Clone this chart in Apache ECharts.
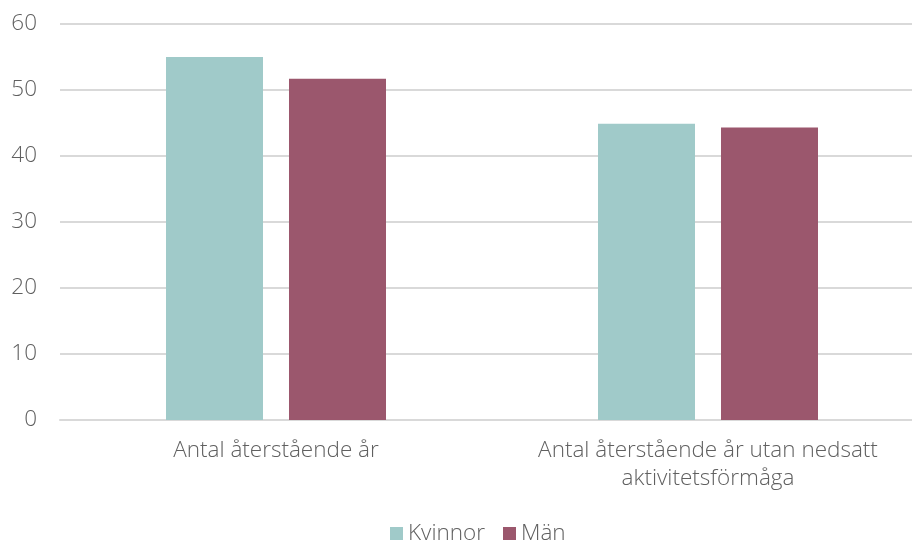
<!DOCTYPE html>
<html>
<head>
<meta charset="utf-8">
<script src="https://cdn.jsdelivr.net/npm/echarts@6/dist/echarts.min.js"></script>
<style>
  html, body { margin: 0; padding: 0; background: #fff; overflow: hidden; }
  #wrap { width: 912px; height: 541px; overflow: hidden; }
  #chart { width: 924px; height: 541px; }
</style>
</head>
<body>
<div id="wrap"><div id="chart"></div></div>
<script>
// data
var categories = ['Antal återstående år', 'Antal återstående år utan nedsatt\naktivitetsförmåga'];
var kvinnor = [55.0, 44.9];
var man = [51.7, 44.3];
var yTicks = { min: 0, max: 60, interval: 10 };

var chart = echarts.init(document.getElementById('chart'));
var font = '"Open Sans", Lato, sans-serif';
var grey = '#606060';

var option = {
  animation: false,
  textStyle: { fontFamily: font },
  color: ['#a0cac9', '#9b576d'],
  grid: { left: 60, top: 24, right: 0, bottom: 121 },
  legend: {
    top: 517,
    left: 385,
    itemWidth: 13,
    itemHeight: 13,
    itemGap: 18,
    icon: 'rect',
    textStyle: { fontSize: 22.5, color: grey, fontWeight: 300, fontFamily: font },
    data: ['Kvinnor', 'Män']
  },
  xAxis: {
    type: 'category',
    data: categories,
    axisTick: { show: false },
    axisLine: { lineStyle: { color: '#d9d9d9', width: 2 } },
    axisLabel: {
      fontSize: 22.5,
      color: grey,
      fontWeight: 300,
      fontFamily: font,
      margin: 17,
      lineHeight: 28,
      interval: 0
    }
  },
  yAxis: {
    type: 'value',
    min: yTicks.min,
    max: yTicks.max,
    interval: yTicks.interval,
    axisLine: { show: false },
    axisTick: { show: false },
    splitLine: { lineStyle: { color: '#d9d9d9', width: 2 } },
    axisLabel: { fontSize: 22.5, color: grey, fontWeight: 300, fontFamily: font, margin: 23 }
  },
  series: [
    { name: 'Kvinnor', type: 'bar', data: kvinnor, barWidth: 97, barGap: '26.8%' },
    { name: 'Män', type: 'bar', data: man, barWidth: 97, barGap: '26.8%' }
  ]
};
chart.setOption(option);
</script>
</body>
</html>
